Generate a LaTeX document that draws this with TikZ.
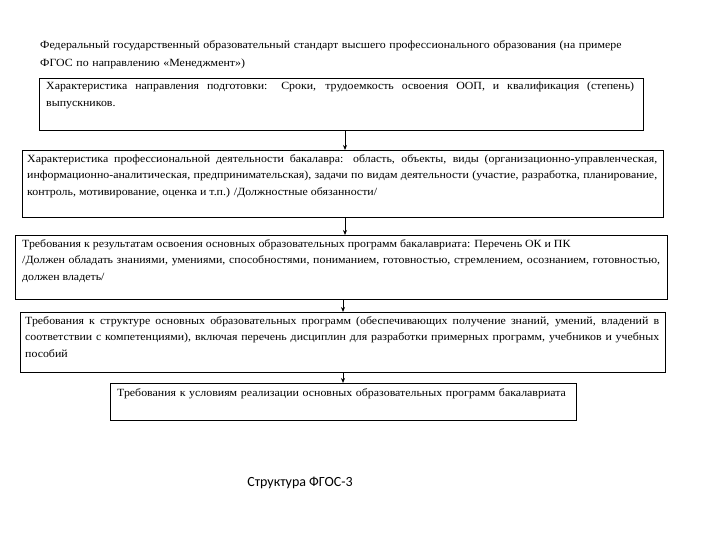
\documentclass[tikz,border=0pt]{standalone}
\usepackage{fontspec}
\setmainfont[FakeStretch=1.08]{Liberation Serif}
\newfontfamily\capfont{Carlito}
\usetikzlibrary{arrows.meta}
\begin{document}
\begin{tikzpicture}[x=1pt,y=-1pt,
  boxst/.style={draw,line width=0.8pt,inner sep=0pt,anchor=north west},
  txt/.style={anchor=north west,inner sep=0pt,font=\fontsize{11}{16.5}\selectfont,align=justify},
  arr/.style={-{Stealth[length=5pt,width=4pt]},line width=0.8pt}]
\useasboundingbox (0,0) rectangle (720,540);
\node[txt,text width=640pt,align=left,font=\fontsize{11}{18}\selectfont] (title) at (40,40) {Федеральный государственный образовательный стандарт высшего профессионального образования (на примере\\ ФГОС по направлению «Менеджмент»)};
\node[boxst,minimum width=604pt,minimum height=52pt] (b1) at (39,78) {};
\node[txt,text width=588pt] (t1) at (46,82) {Характеристика направления подготовки: Сроки, трудоемкость освоения ООП, и квалификация (степень) выпускников.};
\node[boxst,minimum width=641pt,minimum height=67pt] (b2) at (22,150) {};
\node[txt,text width=630pt] (t2) at (27,154) {Характеристика профессиональной деятельности бакалавра: область, объекты, виды (организационно-управленческая, информационно-аналитическая, предпринимательская), задачи по видам деятельности (участие, разработка, планирование, контроль, мотивирование, оценка и т.п.) /Должностные обязанности/};
\node[boxst,minimum width=652pt,minimum height=64pt] (b3) at (15,235) {};
\node[txt,text width=638pt] (t3) at (22,239) {\hbox{Требования к результатам освоения основных образовательных программ бакалавриата: Перечень ОК и ПК}\newline /Должен обладать знаниями, умениями, способностями, пониманием, готовностью, стремлением, осознанием, готовностью, должен владеть/};
\node[boxst,minimum width=645pt,minimum height=60pt] (b4) at (20,312) {};
\node[txt,text width=634pt] (t4) at (25,316) {Требования к структуре основных образовательных программ (обеспечивающих получение знаний, умений, владений в соответствии с компетенциями), включая перечень дисциплин для разработки примерных программ, учебников и учебных пособий};
\node[boxst,minimum width=466pt,minimum height=37pt] (b5) at (110,383) {};
\node[txt,text width=460pt,align=left] (t5) at (117,388) {Требования к условиям реализации основных образовательных программ бакалавриата};
\node[font=\capfont\fontsize{14}{16}\selectfont,inner sep=0pt] (cap) at (300,483) {Структура ФГОС-3};
\draw[arr] (b1.south -| 345,0) -- (b2.north -| 345,0);
\draw[arr] (b2.south -| 345,0) -- (b3.north -| 345,0);
\draw[arr] (b3.south -| 343,0) -- (b4.north -| 343,0);
\draw[arr] (b4.south -| 343,0) -- (b5.north -| 343,0);
\end{tikzpicture}
\end{document}
